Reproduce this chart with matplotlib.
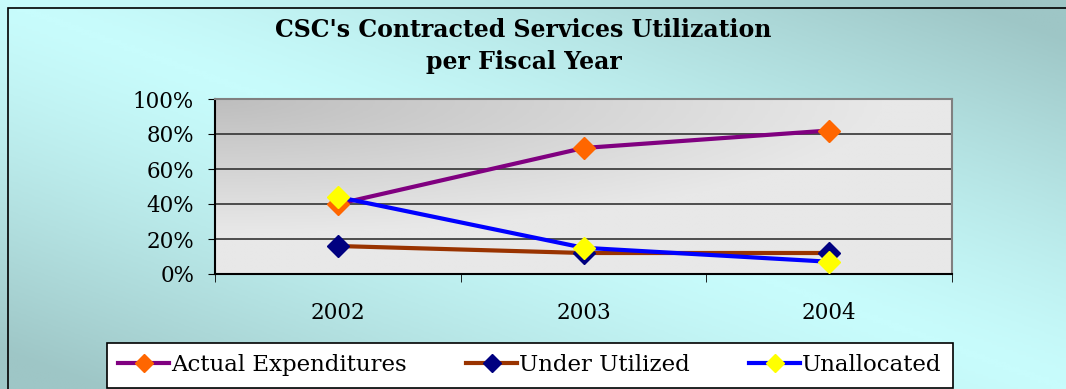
import matplotlib.pyplot as plt
import numpy as np
from matplotlib.patches import Rectangle
from matplotlib.colors import LinearSegmentedColormap

years = ["2002", "2003", "2004"]
actual = [40, 72, 82]
under = [16, 12, 12]
unalloc = [44, 15, 7]
yticks = [0, 20, 40, 60, 80, 100]

fig = plt.figure(figsize=(10.66, 3.89), dpi=100)

# background gradient
bg = fig.add_axes([0, 0, 1, 1], zorder=-10)
xx, yy = np.meshgrid(np.linspace(0, 1, 400), np.linspace(0, 1, 150))
dark = np.clip(np.abs(xx - yy) * 1.1, 0, 1) ** 1.3
bg_cmap = LinearSegmentedColormap.from_list("bg", ["#c8fcfc", "#9ec6c6"])
bg.imshow(dark, cmap=bg_cmap, aspect="auto", extent=[0, 1, 0, 1], origin="upper")
bg.set_xlim(0, 1)
bg.set_ylim(0, 1)
bg.axis("off")
bg.add_patch(Rectangle((8 / 1066, -0.1), 1.2, 1.1 - 8 / 389, fill=False,
                       edgecolor="black", linewidth=1.2, transform=bg.transAxes))

ax = fig.add_axes([215 / 1066, 1 - 274 / 389, 737 / 1066, 175 / 389])

# plot area gradient, darker toward the top left
gx, gy = np.meshgrid(np.linspace(0, 1, 300), np.linspace(0, 1, 100))
shade = np.clip(np.sqrt((gx * 1.1) ** 2 + (gy * 1.3) ** 2), 0, 1)
pa_cmap = LinearSegmentedColormap.from_list("pa", ["#bebebe", "#e8e8e8"])
ax.imshow(shade, cmap=pa_cmap, aspect="auto", extent=[-0.5, 2.5, 0, 100],
          origin="upper", zorder=0)

for v in yticks[1:-1]:
    ax.axhline(v, color="#333333", linewidth=1.2, zorder=1)

x = np.arange(len(years))
ax.plot(x, actual, color="#800080", linewidth=3, marker="D", markersize=11,
        markerfacecolor="#ff6600", markeredgecolor="#ff6600", zorder=3,
        label="Actual Expenditures")
ax.plot(x, under, color="#993300", linewidth=3, marker="D", markersize=11,
        markerfacecolor="#000080", markeredgecolor="#000080", zorder=3,
        label="Under Utilized")
ax.plot(x, unalloc, color="#0000ff", linewidth=3, marker="D", markersize=11,
        markerfacecolor="#ffff00", markeredgecolor="#ffff00", zorder=4,
        label="Unallocated")

ax.set_xlim(-0.5, 2.5)
ax.set_ylim(0, 100)
ax.set_yticks(yticks)
ax.set_yticklabels([f"{v}%" for v in yticks], fontsize=15.5, family="DejaVu Serif")
ax.set_xticks(x)
ax.set_xticklabels(years, fontsize=15.5, family="DejaVu Serif")
ax.set_xticks([-0.5, 0.5, 1.5, 2.5], minor=True)
ax.tick_params(axis="x", which="major", length=0, pad=20)
ax.tick_params(axis="x", which="minor", length=6, direction="out", color="black")
ax.tick_params(axis="y", length=5, direction="out", color="black", pad=10)

ax.spines["left"].set_color("black")
ax.spines["bottom"].set_color("black")
ax.spines["top"].set_color("#808080")
ax.spines["right"].set_color("#808080")
for s in ax.spines.values():
    s.set_linewidth(1.5)

fig.text(0.491, 1 - 30 / 389, "CSC's Contracted Services Utilization",
         ha="center", va="center", fontsize=17, fontweight="bold", family="DejaVu Serif")
fig.text(0.491, 1 - 62 / 389, "per Fiscal Year",
         ha="center", va="center", fontsize=17, fontweight="bold", family="DejaVu Serif")

leg = fig.legend(loc="upper left", bbox_to_anchor=(107 / 1066, 1 - 343 / 389), ncol=3,
                 prop={"family": "DejaVu Serif", "size": 16.5}, frameon=True,
                 fancybox=False, edgecolor="black", framealpha=1,
                 handlelength=2.2, handletextpad=0.1, columnspacing=2.6,
                 borderpad=0.5, borderaxespad=0, markerscale=0.8)
leg.get_frame().set_linewidth(1.2)

fig.savefig("out.png", dpi=100)
